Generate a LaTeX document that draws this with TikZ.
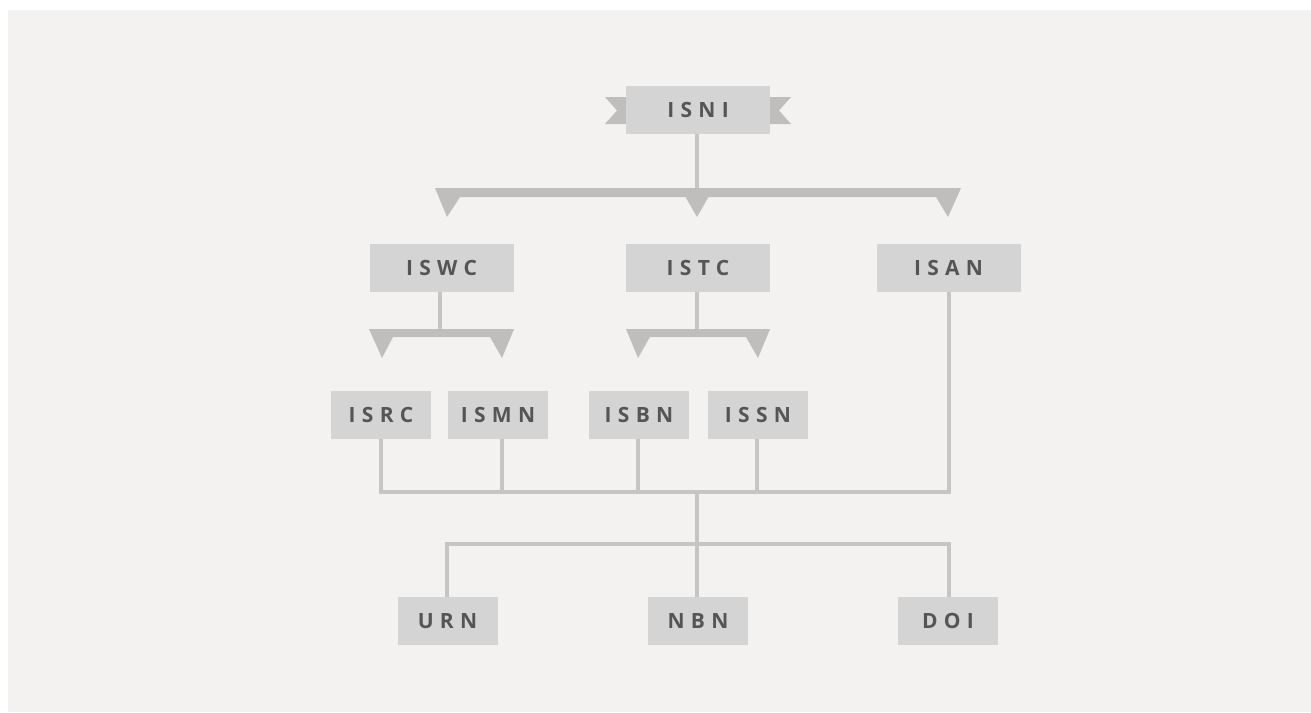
\documentclass[tikz,border=0pt]{standalone}
\usepackage{fontspec}
\setmainfont{Open Sans}
\definecolor{bg}{HTML}{F3F2F1}
\definecolor{boxc}{HTML}{D5D4D4}
\definecolor{linec}{HTML}{C6C5C4}
\definecolor{tric}{HTML}{BFBEBD}
\definecolor{txt}{HTML}{555555}
\begin{document}
\begin{tikzpicture}[x=1pt,y=-1pt,
  idbox/.style={fill=boxc,draw=none,inner sep=0pt,text=txt,
    font=\fontsize{21}{21}\bfseries\addfontfeatures{LetterSpace=30}},
  wide/.style={idbox,minimum width=144pt,minimum height=48pt},
  narrow/.style={idbox,minimum width=100pt,minimum height=48pt},
  conn/.style={draw=linec,line width=4.5pt},
  fork/.style={fill=tric,draw=none}]
\useasboundingbox (0,0) rectangle (1311,712);
\fill[white] (0,0) rectangle (1311,712);
\fill[bg] (8,10) rectangle (1311,712);
% ribbon ends of ISNI
\fill[tric] (605,97) -- (626,97) -- (626,124) -- (605,124) -- (617,110.5) -- cycle;
\fill[tric] (791,97) -- (770,97) -- (770,124) -- (791,124) -- (779,110.5) -- cycle;
\node[wide] (isni) at (698,110) {ISNI};
\node[wide] (iswc) at (441.5,268) {ISWC};
\node[wide] (istc) at (698,268) {ISTC};
\node[wide] (isan) at (948.5,268) {ISAN};
\node[narrow] (isrc) at (381,415) {ISRC};
\node[narrow] (ismn) at (498,415) {ISMN};
\node[narrow] (isbn) at (639,415) {ISBN};
\node[narrow] (issn) at (758,415) {ISSN};
\node[narrow] (urn) at (447.5,621) {URN};
\node[narrow] (nbn) at (698,621) {NBN};
\node[narrow] (doi) at (948,621) {DOI};
% coordinates
\coordinate (forkA) at (697,190);
\coordinate (forkB) at (440,331);
\coordinate (forkC) at (697,331);
\coordinate (j1) at (697,492);
\coordinate (j2) at (697,544);
% stems to forks
\draw[conn] (isni.south -| forkA) -- (forkA);
\draw[conn] (iswc.south -| forkB) -- (forkB);
\draw[conn] (istc.south -| forkC) -- (forkC);
% main fork
\fill[tric] (435,188) -- (961,188) -- (948,217) -- (936,197) -- (708.5,197) -- (697,217) -- (685.5,197) -- (460,197) -- (447,217) -- cycle;
% ISWC fork
\fill[tric] (369,329) -- (514,329) -- (502,358) -- (490,337) -- (393,337) -- (382,358) -- cycle;
% ISTC fork
\fill[tric] (626,329) -- (770,329) -- (758,358) -- (746,337) -- (650,337) -- (638,358) -- cycle;
% collector
\draw[conn,line join=miter] (isrc.south -| 381,0) -- (381,492) -- (949,492) -- (isan.south -| 949,0);
\draw[conn] (ismn.south -| 502,0) -- (502,492);
\draw[conn] (isbn.south -| 638,0) -- (638,492);
\draw[conn] (issn.south -| 757,0) -- (757,492);
\draw[conn] (j1) -- (j2);
\draw[conn,line join=miter] (urn.north -| 447,0) -- (447,544) -- (949,544) -- (doi.north -| 949,0);
\draw[conn] (j2) -- (nbn.north -| j2);
\end{tikzpicture}
\end{document}
